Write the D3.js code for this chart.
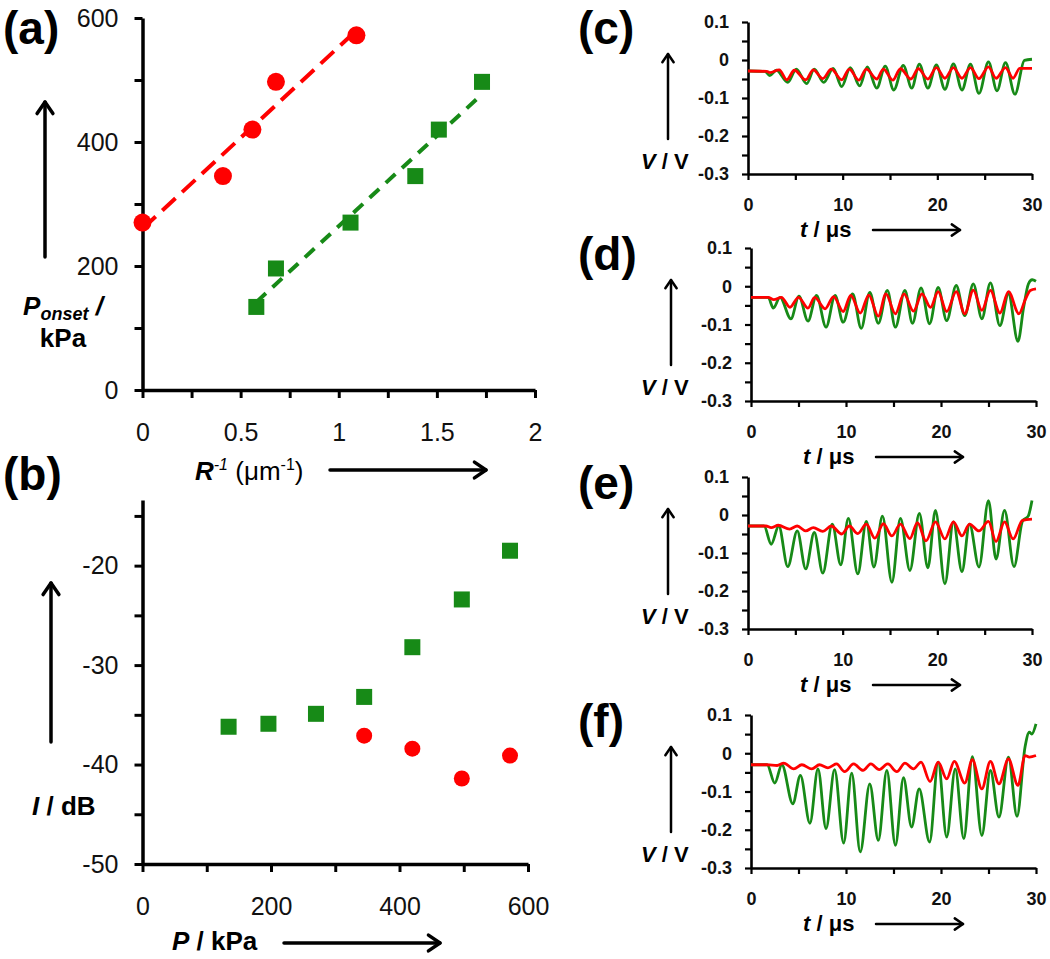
<!DOCTYPE html>
<html><head><meta charset="utf-8">
<script src="https://cdn.jsdelivr.net/npm/d3@7"></script>
<style>
body{margin:0;background:#fff}
svg{display:block}
text{font-family:"Liberation Sans",Arial,Helvetica,sans-serif}
</style>
</head><body>
<svg id="fig" width="1050" height="959"></svg>
<script>
// ---------------- DATA ----------------
// (a) onset pressure vs inverse radius
const invR_red = [0, 0.41, 0.56, 0.68, 1.09];
const Ponset_red = [270, 345, 420, 497, 572];
const invR_green = [0.58, 0.68, 1.06, 1.39, 1.51, 1.73];
const Ponset_green = [134, 196, 270, 345, 420, 497];
const aXTicks = [0, 0.25, 0.5, 0.75, 1, 1.25, 1.5, 1.75, 2];
const aXLabels = [0, 0.5, 1, 1.5, 2];
const aYTicks = [0, 100, 200, 300, 400, 500, 600];
const aYLabels = [0, 200, 400, 600];

// (b) intensity vs pressure
const P_green = [134, 196, 270, 345, 420, 497, 572];
const I_green = [-36.2, -35.9, -34.9, -33.2, -28.2, -23.4, -18.5];
const P_red = [345, 420, 497, 572];
const I_red = [-37.1, -38.4, -41.4, -39.1];
const bXTicks = [0, 100, 200, 300, 400, 500, 600];
const bXLabels = [0, 200, 400, 600];
const bYTicks = [-50, -45, -40, -35, -30, -25, -20, -15];
const bYLabels = [-50, -40, -30, -20];

// (c)-(f) voltage traces, [t (µs), V (V)] read at turning points
const c_green = [[0,-0.029],[1.8,-0.03],[2.3,-0.041],[3.0,-0.027],[4.2,-0.059],[5.1,-0.024],[6.2,-0.062],[7.0,-0.024],[8.0,-0.059],[9.0,-0.022],[9.9,-0.07],[10.8,-0.02],[11.8,-0.068],[12.6,-0.018],[13.6,-0.074],[14.5,-0.016],[15.4,-0.079],[16.4,-0.014],[17.3,-0.074],[18.1,-0.011],[19.0,-0.074],[19.9,-0.013],[20.8,-0.077],[21.7,-0.01],[22.6,-0.079],[23.5,-0.011],[24.4,-0.088],[25.4,-0.005],[26.3,-0.081],[27.2,-0.007],[28.2,-0.09],[29.2,-0.001],[30,0.002]];
const c_red = [[0,-0.029],[2.0,-0.03],[2.3,-0.033],[3.3,-0.026],[4.1,-0.052],[4.9,-0.027],[6.1,-0.052],[6.9,-0.026],[7.9,-0.049],[8.8,-0.024],[9.9,-0.052],[10.7,-0.024],[11.7,-0.053],[12.5,-0.024],[13.6,-0.05],[14.3,-0.024],[15.3,-0.053],[16.1,-0.023],[17.2,-0.05],[18.0,-0.023],[19.0,-0.05],[19.9,-0.02],[20.8,-0.048],[21.7,-0.02],[22.6,-0.048],[23.5,-0.02],[24.4,-0.049],[25.4,-0.018],[26.2,-0.048],[27.2,-0.02],[28.0,-0.048],[28.7,-0.022],[30,-0.022]];
const d_green = [[0,-0.029],[1.8,-0.029],[2.35,-0.057],[3.05,-0.029],[4.2,-0.085],[5.05,-0.026],[6.0,-0.091],[6.9,-0.024],[7.9,-0.107],[8.85,-0.024],[9.7,-0.094],[10.7,-0.02],[11.6,-0.11],[12.5,-0.016],[13.4,-0.097],[14.35,-0.011],[15.2,-0.107],[16.2,-0.011],[17.0,-0.097],[17.9,-0.004],[18.8,-0.098],[19.7,-0.003],[20.6,-0.09],[21.6,0.002],[22.5,-0.077],[23.4,0.006],[24.3,-0.085],[25.2,0.009],[26.2,-0.103],[27.1,-0.02],[28.1,-0.144],[28.7,-0.055],[29.2,0.006],[29.6,0.017],[30,0.013]];
const d_red = [[0,-0.029],[1.8,-0.029],[2.4,-0.035],[3.2,-0.029],[4.1,-0.055],[5.0,-0.029],[6.0,-0.057],[6.7,-0.029],[7.8,-0.059],[8.7,-0.027],[9.7,-0.066],[10.5,-0.024],[11.5,-0.07],[12.4,-0.023],[13.4,-0.078],[14.2,-0.02],[15.2,-0.072],[16.1,-0.02],[17.1,-0.065],[18.0,-0.02],[18.9,-0.055],[19.7,-0.014],[20.6,-0.066],[21.6,-0.014],[22.5,-0.072],[23.4,-0.01],[24.3,-0.063],[25.2,-0.011],[26.2,-0.07],[27.1,-0.014],[28.2,-0.072],[28.9,-0.033],[29.4,-0.011],[30,-0.007]];
const e_green = [[0,-0.029],[1.7,-0.029],[2.45,-0.077],[3.25,-0.029],[4.2,-0.136],[5.2,-0.042],[6.1,-0.142],[7.0,-0.046],[7.9,-0.153],[8.9,-0.024],[9.8,-0.131],[10.6,-0.009],[11.6,-0.155],[12.5,-0.017],[13.3,-0.137],[14.2,-0.003],[15.2,-0.177],[16.1,-0.009],[17.1,-0.146],[18.1,0.004],[19.0,-0.139],[19.8,0.012],[20.8,-0.181],[21.7,-0.018],[22.6,-0.149],[23.4,-0.024],[24.4,-0.137],[25.4,0.038],[26.2,-0.116],[27.1,0.012],[28.1,-0.136],[29.0,-0.016],[29.6,-0.003],[30,0.038]];
const e_red = [[0,-0.029],[1.9,-0.029],[2.45,-0.033],[3.2,-0.027],[4.4,-0.037],[5.2,-0.029],[6.1,-0.042],[6.9,-0.033],[7.9,-0.043],[8.8,-0.029],[9.9,-0.05],[10.7,-0.029],[11.6,-0.049],[12.5,-0.024],[13.4,-0.061],[14.3,-0.023],[15.2,-0.055],[16.1,-0.024],[17.1,-0.062],[17.9,-0.02],[18.8,-0.068],[19.8,-0.018],[20.8,-0.063],[21.7,-0.018],[22.6,-0.055],[23.4,-0.024],[24.4,-0.042],[25.4,-0.017],[26.2,-0.07],[27.1,-0.018],[28.0,-0.063],[29.0,-0.014],[30,-0.011]];
const f_green = [[0,-0.03],[1.7,-0.03],[2.5,-0.078],[3.25,-0.03],[4.4,-0.132],[5.2,-0.058],[6.2,-0.183],[7.05,-0.041],[7.9,-0.197],[8.8,-0.043],[9.75,-0.235],[10.6,-0.052],[11.5,-0.258],[12.5,-0.08],[13.4,-0.228],[14.3,-0.045],[15.2,-0.241],[16.05,-0.064],[16.9,-0.193],[17.7,-0.093],[18.8,-0.232],[19.7,-0.023],[20.6,-0.219],[21.5,-0.041],[22.4,-0.223],[23.3,-0.009],[24.3,-0.215],[25.2,-0.045],[26.1,-0.167],[27.1,-0.01],[28.0,-0.165],[28.85,0.017],[29.3,0.055],[29.55,0.05],[30,0.077]];
const f_red = [[0,-0.03],[1.7,-0.03],[2.75,-0.032],[3.45,-0.026],[4.5,-0.041],[5.35,-0.03],[6.4,-0.041],[7.2,-0.03],[8.1,-0.038],[9.0,-0.028],[9.85,-0.048],[10.8,-0.028],[11.8,-0.045],[12.6,-0.028],[13.5,-0.043],[14.4,-0.028],[15.35,-0.048],[16.2,-0.026],[17.1,-0.041],[17.9,-0.023],[18.85,-0.074],[19.7,-0.023],[20.6,-0.067],[21.4,-0.021],[22.5,-0.078],[23.3,-0.017],[24.3,-0.093],[25.2,-0.021],[26.1,-0.08],[27.1,-0.015],[28.1,-0.084],[28.85,-0.006],[29.3,-0.01],[30,-0.006]];
const wXTicks = [0, 5, 10, 15, 20, 25, 30];
const wXLabels = [0, 10, 20, 30];
const wYTicks = [-0.3, -0.25, -0.2, -0.15, -0.1, -0.05, 0, 0.05, 0.1];
const wYLabels = [-0.3, -0.2, -0.1, 0, 0.1];

// ---------------- STYLE ----------------
const RED = "#ff0000";
const GREEN = "#178a17";
const svg = d3.select("#fig");
svg.append("rect").attr("width",1050).attr("height",959).attr("fill","#fff");

function has(arr, v){ return arr.some(a => Math.abs(a - v) < 1e-9); }
// plain hyphen-minus formatting, like the original figure
function num(v, digits){
  if (Math.abs(v) < 1e-9) return "0";
  const s = digits == null ? String(Math.abs(v)) : Math.abs(v).toFixed(digits);
  return (v < 0 ? "-" : "") + s;
}

function arrow(x1, y1, x2, y2, head, sw){
  const g = svg.append("g").attr("stroke","#000").attr("stroke-width",sw).attr("fill","none")
    .attr("stroke-linecap","round").attr("stroke-linejoin","round");
  g.append("line").attr("x1",x1).attr("y1",y1).attr("x2",x2).attr("y2",y2);
  const ang = Math.atan2(y2-y1, x2-x1), a = 0.6;
  const p1 = [x2 - head*Math.cos(ang-a), y2 - head*Math.sin(ang-a)];
  const p2 = [x2 - head*Math.cos(ang+a), y2 - head*Math.sin(ang+a)];
  g.append("path").attr("d", `M${p1[0]},${p1[1]}L${x2},${y2}L${p2[0]},${p2[1]}`);
}

function styleAxis(g, sw, fs, weight){
  g.select(".domain").attr("stroke","#000").attr("stroke-width",sw);
  g.selectAll(".tick line").attr("stroke","#000").attr("stroke-width",sw*0.85);
  g.selectAll(".tick text").attr("fill","#111").attr("font-size",fs).attr("font-weight",weight)
    .attr("font-family",'"Liberation Sans",Arial,Helvetica,sans-serif');
}

function label(x, y, parts, fs, anchor){
  const t = svg.append("text").attr("x",x).attr("y",y).attr("font-size",fs).attr("fill","#000")
    .attr("text-anchor", anchor || "start");
  parts.forEach(p => {
    const s = t.append("tspan").text(p.t);
    if (p.b) s.attr("font-weight","bold");
    if (p.i) s.attr("font-style","italic");
    if (p.fs) s.attr("font-size",p.fs);
    if (p.dy) s.attr("dy",p.dy);
  });
  return t;
}

function panelLabel(x, y, s){
  svg.append("text").attr("x",x).attr("y",y).attr("font-size",46).attr("font-weight","bold")
    .attr("fill","#000").text(s);
}

// ---------------- PANEL (a) ----------------
{
  const x = d3.scaleLinear().domain([0,2]).range([142.5,535]);
  const y = d3.scaleLinear().domain([0,600]).range([390,18]);
  const fmtX = v => has(aXLabels, v) ? num(v) : "";
  const fmtY = v => has(aYLabels, v) ? num(v) : "";
  const gx = svg.append("g").attr("transform","translate(0,390)")
    .call(d3.axisBottom(x).tickValues(aXTicks).tickFormat(fmtX).tickSize(8).tickSizeOuter(0).tickPadding(25));
  styleAxis(gx, 3.5, 25, "normal");
  const gy = svg.append("g").attr("transform","translate(142.5,0)")
    .call(d3.axisLeft(y).tickValues(aYTicks).tickFormat(fmtY).tickSize(8).tickSizeOuter(0).tickPadding(16));
  styleAxis(gy, 3.5, 25, "normal");

  function fitLine(xs, ys, color, dash){
    const mx = d3.mean(xs), my = d3.mean(ys);
    const sxy = d3.sum(xs.map((v,i)=>(v-mx)*(ys[i]-my)));
    const sxx = d3.sum(xs.map(v=>(v-mx)*(v-mx)));
    const m = sxy/sxx, b = my - m*mx;
    const ext = d3.extent(xs);
    svg.append("line").attr("x1",x(ext[0])).attr("y1",y(b+m*ext[0]))
      .attr("x2",x(ext[1])).attr("y2",y(b+m*ext[1]))
      .attr("stroke",color).attr("stroke-width",4).attr("stroke-dasharray",dash);
  }
  fitLine(invR_red, Ponset_red, RED, "18,9");
  fitLine(invR_green, Ponset_green, GREEN, "13,9");

  svg.append("g").selectAll("circle").data(invR_red.map((v,i)=>[v,Ponset_red[i]])).join("circle")
    .attr("cx",d=>x(d[0])).attr("cy",d=>y(d[1])).attr("r",9).attr("fill",RED);
  svg.append("g").selectAll("rect").data(invR_green.map((v,i)=>[v,Ponset_green[i]])).join("rect")
    .attr("x",d=>x(d[0])-8).attr("y",d=>y(d[1])-8).attr("width",16).attr("height",16).attr("fill",GREEN);

  panelLabel(3, 44, "(a)");
  arrow(45, 257, 45, 102, 14, 3.5);
  label(63, 315, [{t:"P",b:1,i:1},{t:"onset",b:1,i:1,fs:18,dy:5},{t:" /",b:1,i:1,dy:-5}], 26, "middle");
  label(63, 347, [{t:"kPa",b:1}], 26, "middle");
  label(195, 480, [{t:"R",b:1,i:1},{t:"-1",i:1,fs:16,dy:-10},{t:" (μm",dy:10},{t:"-1",fs:16,dy:-10},{t:")",dy:10}], 26);
  arrow(330, 470, 486, 470, 14, 3.5);
}

// ---------------- PANEL (b) ----------------
{
  const x = d3.scaleLinear().domain([0,600]).range([142.5,528]);
  const y = d3.scaleLinear().domain([-50,-13.4]).range([864,500]);
  const fmtX = v => has(bXLabels, v) ? num(v) : "";
  const fmtY = v => has(bYLabels, v) ? num(v) : "";
  const gx = svg.append("g").attr("transform","translate(0,864)")
    .call(d3.axisBottom(x).tickValues(bXTicks).tickFormat(fmtX).tickSize(8).tickSizeOuter(0).tickPadding(25));
  styleAxis(gx, 3.5, 25, "normal");
  const gy = svg.append("g").attr("transform","translate(142.5,0)")
    .call(d3.axisLeft(y).tickValues(bYTicks).tickFormat(fmtY).tickSize(8).tickSizeOuter(0).tickPadding(16));
  styleAxis(gy, 3.5, 25, "normal");

  svg.append("g").selectAll("rect").data(P_green.map((v,i)=>[v,I_green[i]])).join("rect")
    .attr("x",d=>x(d[0])-8).attr("y",d=>y(d[1])-8).attr("width",16).attr("height",16).attr("fill",GREEN);
  svg.append("g").selectAll("circle").data(P_red.map((v,i)=>[v,I_red[i]])).join("circle")
    .attr("cx",d=>x(d[0])).attr("cy",d=>y(d[1])).attr("r",8).attr("fill",RED);

  panelLabel(3, 490, "(b)");
  arrow(51, 742, 51, 583, 14, 3.5);
  label(32, 815, [{t:"I",b:1,i:1},{t:" / dB",b:1}], 26);
  label(172, 950, [{t:"P",b:1,i:1},{t:" / kPa",b:1}], 26);
  arrow(284, 943, 440, 943, 14, 3.5);
}

// ---------------- PANELS (c)-(f) ----------------
const wavePanels = [
  {name:"(c)", x0:748, x1:1032, yTop:22,  yBot:174, green:c_green, red:c_red},
  {name:"(d)", x0:751, x1:1036, yTop:248, yBot:401, green:d_green, red:d_red},
  {name:"(e)", x0:748, x1:1032, yTop:477, yBot:629, green:e_green, red:e_red},
  {name:"(f)", x0:751, x1:1036, yTop:715, yBot:868, green:f_green, red:f_red}
];
wavePanels.forEach(p => {
  const x = d3.scaleLinear().domain([0,30]).range([p.x0,p.x1]);
  const y = d3.scaleLinear().domain([-0.3,0.1]).range([p.yBot,p.yTop]);
  const fmtX = v => has(wXLabels, v) ? num(v) : "";
  const fmtY = v => has(wYLabels, v) ? num(v, 1) : "";
  const gx = svg.append("g").attr("transform",`translate(0,${p.yBot})`)
    .call(d3.axisBottom(x).tickValues(wXTicks).tickFormat(fmtX).tickSize(6).tickSizeOuter(0).tickPadding(18));
  styleAxis(gx, 2.6, 18, "bold");
  const gy = svg.append("g").attr("transform",`translate(${p.x0},0)`)
    .call(d3.axisLeft(y).tickValues(wYTicks).tickFormat(fmtY).tickSize(6).tickSizeOuter(0).tickPadding(13));
  styleAxis(gy, 2.6, 18, "bold");

  const line = d3.line().x(d=>x(d[0])).y(d=>y(d[1])).curve(d3.curveMonotoneX);
  svg.append("path").datum(p.green).attr("d",line).attr("fill","none").attr("stroke",GREEN)
    .attr("stroke-width",2.8).attr("stroke-linejoin","round");
  svg.append("path").datum(p.red).attr("d",line).attr("fill","none").attr("stroke",RED)
    .attr("stroke-width",2.8).attr("stroke-linejoin","round");

  panelLabel(578, p.yTop+22, p.name);
  arrow(p.x0-80, p.yTop+117, p.x0-80, p.yTop+32, 10, 2.5);
  label(641, p.yTop+147, [{t:"V",b:1,i:1},{t:" / V",b:1}], 22);
  label(p.x0+52, p.yBot+63, [{t:"t",b:1,i:1},{t:" / μs",b:1}], 22);
  arrow(p.x0+125, p.yBot+56, p.x0+212, p.yBot+56, 10, 2.5);
});
</script>
</body></html>
